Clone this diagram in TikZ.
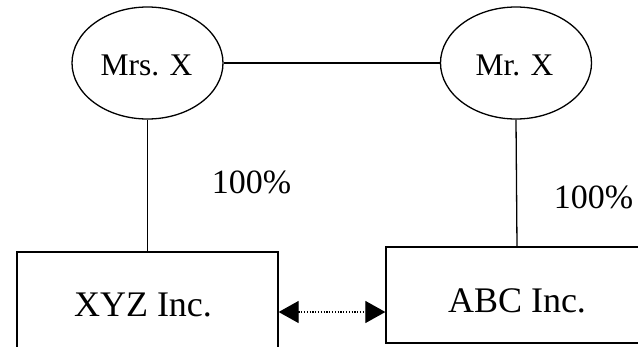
\documentclass[tikz,border=0pt]{standalone}
\usepackage{fontspec}
\setmainfont{Liberation Serif}
\usetikzlibrary{shapes.geometric,arrows.meta}
\begin{document}
\begin{tikzpicture}[x=1pt,y=-1pt,
  person/.style={draw,ellipse,line width=1.3pt,minimum width=151pt,minimum height=112pt,inner sep=0pt},
  company/.style={draw,rectangle,line width=1.3pt,inner sep=0pt},
  lbl/.style={anchor=base,inner sep=0pt},
  link/.style={line width=1.3pt}]
\useasboundingbox (0,0) rectangle (638,346);
\clip (0,0) rectangle (638,346);
\node[person] (mrs) at (147.5,63) {};
\node[person] (mr) at (516,63) {};
\node[company,minimum width=261pt,minimum height=102pt] (xyz) at (147.5,303) {};
\node[company,minimum width=262pt,minimum height=96pt] (abc) at (517,295) {};
\node[lbl,font=\fontsize{31.5}{31.5}\selectfont] (tmrs) at (146.5,75) {Mrs. X};
\node[lbl,font=\fontsize{31.5}{31.5}\selectfont] (tmr) at (514.5,75) {Mr. X};
\node[lbl,font=\fontsize{36}{36}\selectfont] (txyz) at (143,316) {XYZ Inc.};
\node[lbl,font=\fontsize{36}{36}\selectfont] (tabc) at (517,312) {ABC Inc.};
\node[lbl,font=\fontsize{34}{34}\selectfont] (p1) at (251.5,193) {100\%};
\node[lbl,font=\fontsize{34}{34}\selectfont] (p2) at (593.5,208) {100\%};
\coordinate (ay) at (330,312);
\draw[link] (mrs.east) -- (mr.west);
\draw[link] (mrs.south) -- (xyz.north);
\draw[link] (mr.south) -- (abc.north);
\draw[line width=1.2pt,dash pattern=on 1.2pt off 1.6pt,{Triangle[length=20pt,width=22pt]}-{Triangle[length=20pt,width=22pt]}] (xyz.east |- ay) -- (abc.west |- ay);
\end{tikzpicture}
\end{document}
